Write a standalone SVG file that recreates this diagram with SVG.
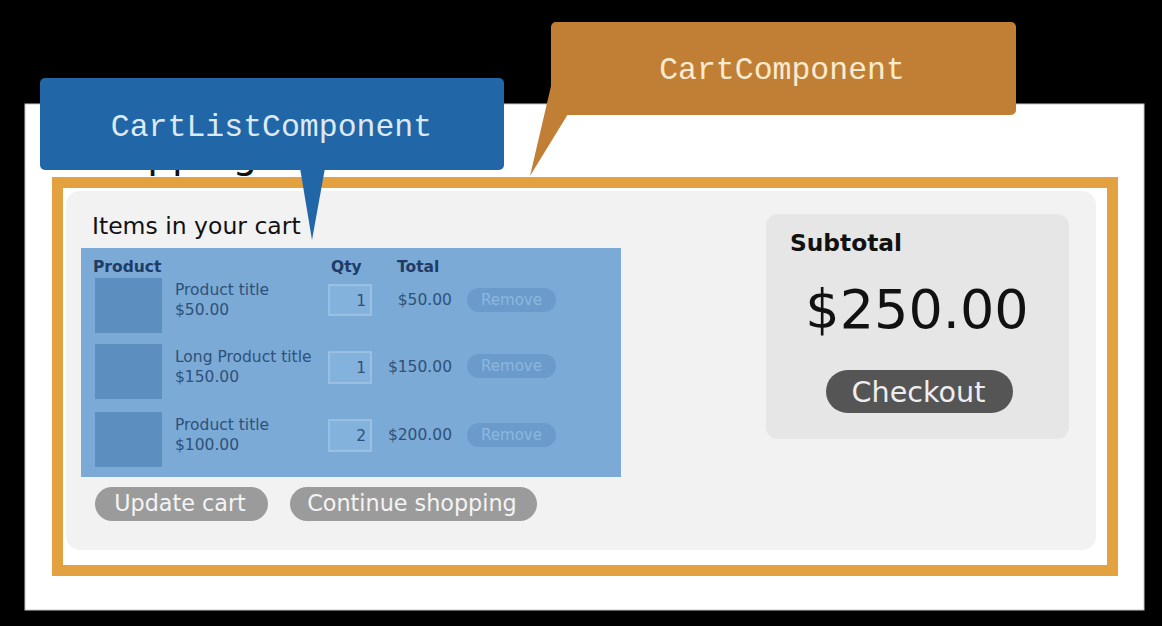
<svg xmlns="http://www.w3.org/2000/svg" width="1162" height="626" viewBox="0 0 1162 626">
<style>
.ui{font-family:"DejaVu Sans","Liberation Sans",sans-serif}
.mono{font-family:"Liberation Mono","DejaVu Sans Mono",monospace;font-size:31.5px}
.hdr{font-size:15.5px;font-weight:bold;fill:#1E3D66}
.cell{font-size:15.5px;fill:#2F5179}
.img{fill:#5C8EBF}
.qty{fill:#83B2DD;stroke:#A3C5E6;stroke-width:1.5}
.rm{fill:#6A9BCB}
.rmt{font-size:15px;fill:#8DB7DF;text-anchor:middle}
.gbtn{fill:#9B9B9B}
.gbt{font-size:22.3px;fill:#F4F4F4;text-anchor:middle}
</style>
<rect x="0" y="0" width="1162" height="626" fill="#000"/>
<g id="page">
<rect x="25" y="104" width="1119" height="506" fill="#FFFFFF" stroke="#C8C8C8" stroke-width="1"/>
<text class="ui" x="74" y="168" font-size="39" fill="#111">Shopping cart</text>
</g>
<g id="cart-component">
<rect x="57.5" y="182.5" width="1055" height="388" fill="none" stroke="#E4A140" stroke-width="11"/>
<rect x="66" y="191" width="1030" height="359" rx="14" fill="#F2F2F2"/>
<text class="ui" x="92" y="234" font-size="23.5" fill="#111">Items in your cart</text>
</g>
<g id="cart-list">
<rect x="81" y="248" width="540" height="229" fill="#7BAAD6"/>
<text class="ui hdr" x="93" y="272">Product</text>
<text class="ui hdr" x="331" y="272">Qty</text>
<text class="ui hdr" x="397" y="272">Total</text>
<rect class="img" x="95" y="278" width="67" height="55"/>
<rect class="img" x="95" y="344" width="67" height="55"/>
<rect class="img" x="95" y="412" width="67" height="55"/>
<text class="ui cell" x="175" y="295">Product title</text>
<text class="ui cell" x="175" y="315">$50.00</text>
<text class="ui cell" x="175" y="362">Long Product title</text>
<text class="ui cell" x="175" y="382">$150.00</text>
<text class="ui cell" x="175" y="430">Product title</text>
<text class="ui cell" x="175" y="450">$100.00</text>
<rect class="qty" x="329" y="285" width="42" height="30"/>
<rect class="qty" x="329" y="352" width="42" height="31"/>
<rect class="qty" x="329" y="420" width="42" height="31"/>
<text class="ui cell" x="366" y="306" text-anchor="end">1</text>
<text class="ui cell" x="366" y="373" text-anchor="end">1</text>
<text class="ui cell" x="366" y="441" text-anchor="end">2</text>
<text class="ui cell" x="452" y="305" text-anchor="end">$50.00</text>
<text class="ui cell" x="452" y="372" text-anchor="end">$150.00</text>
<text class="ui cell" x="452" y="440" text-anchor="end">$200.00</text>
<rect class="rm" x="467" y="288" width="89" height="24" rx="12"/>
<rect class="rm" x="467" y="354" width="89" height="24" rx="12"/>
<rect class="rm" x="467" y="423" width="89" height="24" rx="12"/>
<text class="ui rmt" x="511.5" y="305">Remove</text>
<text class="ui rmt" x="511.5" y="371">Remove</text>
<text class="ui rmt" x="511.5" y="440">Remove</text>
</g>
<g id="update-cart">
<rect class="gbtn" x="95" y="487" width="173" height="34" rx="17"/>
<text class="ui gbt" x="180" y="511">Update cart</text>
</g>
<g id="continue-shopping">
<rect class="gbtn" x="290" y="487" width="247" height="34" rx="17"/>
<text class="ui gbt" x="412" y="511">Continue shopping</text>
</g>
<g id="subtotal">
<rect x="766" y="214" width="303" height="225" rx="12" fill="#E6E6E6"/>
<text class="ui" x="790" y="251" font-size="23.3" font-weight="bold" fill="#111">Subtotal</text>
<text class="ui" x="917" y="328" font-size="54" fill="#111" text-anchor="middle">$250.00</text>
<rect x="826" y="370" width="187" height="43" rx="21.5" fill="#555555"/>
<text class="ui" x="918.5" y="402" font-size="28.6" fill="#EEEEEE" text-anchor="middle">Checkout</text>
</g>
<g id="connectors">
<polygon points="551,86 568,114 530,176" fill="#C07F34"/>
<polygon points="300,168 325,168 312,240" fill="#2166A6"/>
</g>
<g id="cart-component-label">
<rect x="551" y="22" width="465" height="93" rx="5" fill="#C07F34"/>
<text class="mono" x="782" y="79" fill="#FAEBD0" text-anchor="middle">CartComponent</text>
</g>
<g id="cart-list-component-label">
<rect x="40" y="78" width="464" height="92" rx="5" fill="#2166A6"/>
<text class="mono" x="271.5" y="136" fill="#DDE9F4" text-anchor="middle">CartListComponent</text>
</g>
</svg>
